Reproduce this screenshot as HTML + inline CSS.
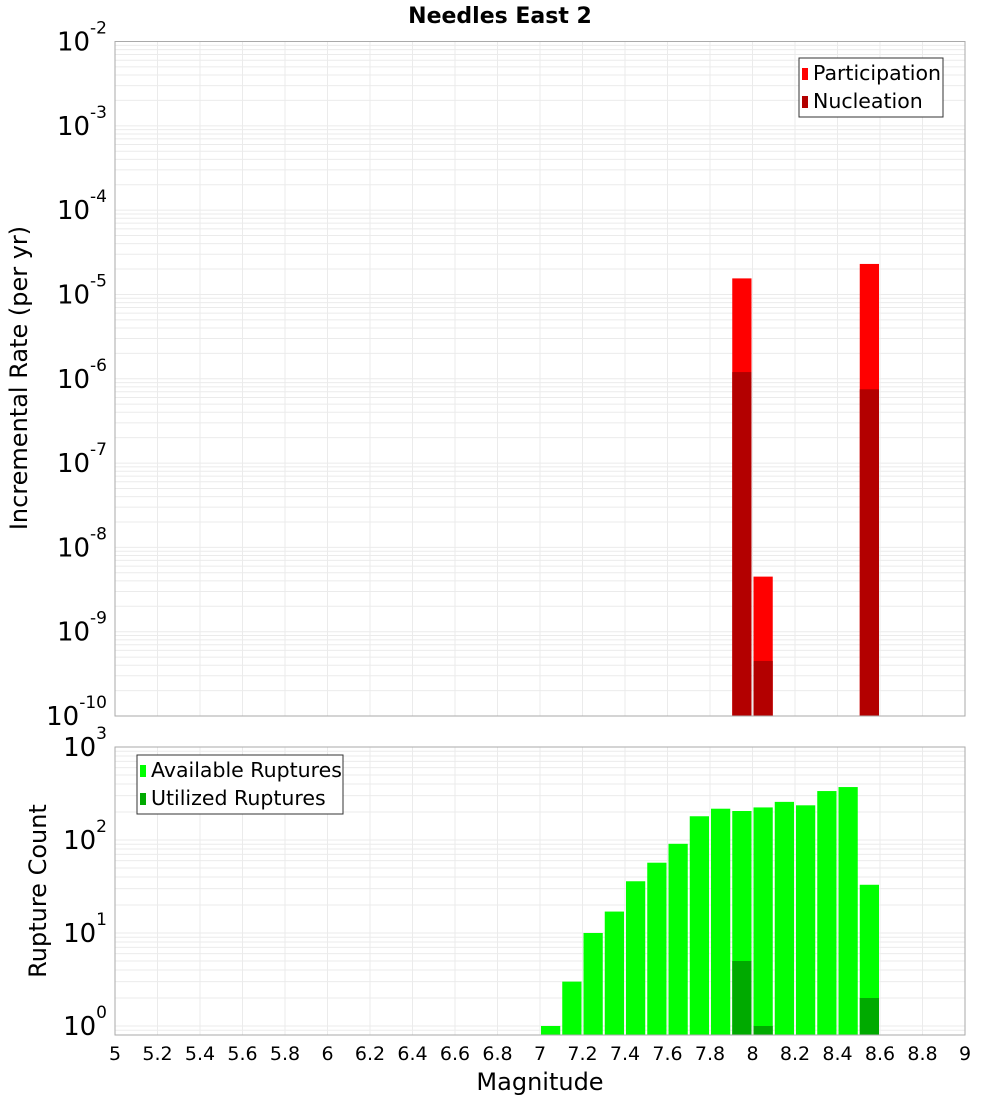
<!DOCTYPE html>
<html><head><meta charset="utf-8"><style>
body{margin:0;background:#fff}
svg{display:block;font-family:"DejaVu Sans","Liberation Sans",sans-serif}
</style></head><body>
<svg id="c" width="1000" height="1100" xmlns="http://www.w3.org/2000/svg">
<text x="500" y="23" text-anchor="middle" font-size="22" font-weight="bold">Needles East 2</text>
<text transform="translate(27,378) rotate(-90)" text-anchor="middle" font-size="24">Incremental Rate (per yr)</text>
<text transform="translate(46,891) rotate(-90)" text-anchor="middle" font-size="24">Rupture Count</text>
<text x="540" y="1090" text-anchor="middle" font-size="24">Magnitude</text>
<g id="top"></g><g id="bot"></g>
</svg>
<script>
const mags = [7.0,7.1,7.2,7.3,7.4,7.5,7.6,7.7,7.8,7.9,8.0,8.1,8.2,8.3,8.4,8.5];
const available = [1,3,10,17,36,57,91,180,217,205,224,257,236,336,371,33];
const utilizedMags = [7.9,8.0,8.5];
const utilized = [5,1,2];
const rateMags = [7.9,8.0,8.5];
const participation = [1.55e-5,4.5e-9,2.3e-5];
const nucleation = [1.2e-6,4.5e-10,7.5e-7];
const xTicks = [5,5.2,5.4,5.6,5.8,6,6.2,6.4,6.6,6.8,7,7.2,7.4,7.6,7.8,8,8.2,8.4,8.6,8.8,9];
const topExps = [-2,-3,-4,-5,-6,-7,-8,-9,-10];
const botExps = [3,2,1,0];

const NS="http://www.w3.org/2000/svg";
const X0=115,X1=965;
const xs=m=>X0+(m-5)/(9-5)*(X1-X0);
function mk(p,t,a){const e=document.createElementNS(NS,t);for(const k in a)e.setAttribute(k,a[k]);p.appendChild(e);return e;}

function panel(g,top,bot,lmin,lmax,nm){
  const ys=v=>bot-(Math.log10(v)-lmin)/(lmax-lmin)*(bot-top);
  for(let e=Math.floor(lmin);e<=lmax;e++){for(let k=1;k<10;k++){const v=k*Math.pow(10,e);const y=ys(v);if(y<top-0.1||y>bot+0.1)continue;
    const l=mk(g,'line',{x1:X0,x2:X1,y1:y,y2:y,stroke:'#ebebeb','stroke-width':1});
    
    }}
  xTicks.forEach(t=>{const l=mk(g,'line',{x1:xs(t),x2:xs(t),y1:top,y2:bot,stroke:'#ebebeb'});
    
    });
  return ys;
}
function frame(g,top,bot,nm){const r=mk(g,'rect',{x:X0,y:top,width:X1-X0,height:bot-top,fill:'none',stroke:'#aaa'});
  
  }
function bar(g,m,v,ys,bot,col,name){const x=xs(m)+1,w=xs(m+0.1)-xs(m)-2,y=ys(v);
  const r=mk(g,'rect',{x:x,y:y,width:w,height:bot-y,fill:col});
  
  }
function ylab(g,e,y,nm){const t=mk(g,'text',{x:107,y:y+9,'text-anchor':'end','font-size':26});
  
  
  t.appendChild(document.createTextNode('10'));
  const s=mk(t,'tspan',{dy:-17,'font-size':17});s.textContent=String(e);}

const gt=document.getElementById('top');
const T0=41.5,T1=716;
const yt=panel(gt,T0,T1,-10,-2,'top');
rateMags.forEach((m,i)=>bar(gt,m,participation[i],yt,T1,'#ff0000','participation-bar'));
rateMags.forEach((m,i)=>bar(gt,m,nucleation[i],yt,T1,'#b30000','nucleation-bar'));
frame(gt,T0,T1,'top');
topExps.forEach(e=>ylab(gt,e,yt(Math.pow(10,e)),'top'));

const gb=document.getElementById('bot');
const B0=747,B1=1035;
const yb=panel(gb,B0,B1,Math.log10(0.8),3,'bottom');
mags.forEach((m,i)=>bar(gb,m,available[i],yb,B1,'#00ff00','available-bar'));
utilizedMags.forEach((m,i)=>bar(gb,m,utilized[i],yb,B1,'#00aa00','utilized-bar'));
frame(gb,B0,B1,'bottom');
botExps.forEach(e=>ylab(gb,e,yb(Math.pow(10,e)),'bottom'));
xTicks.forEach(t=>{const tx=mk(gb,'text',{x:xs(t),y:1060,'text-anchor':'middle','font-size':19});
  
  
  tx.textContent=String(t);});

function legend(g,x,y,w,items,nm){const bx=mk(g,'rect',{x:x,y:y,width:w,height:59,fill:'#fff',stroke:'#333'});
  
  
  items.forEach((it,i)=>{const sw=mk(g,'rect',{x:x+3,y:y+10+i*28,width:6,height:12,fill:it[1]});
    
    
    const t=mk(g,'text',{x:x+14,y:y+22+i*28,'font-size':20.5});
    
    
    t.textContent=it[0];});}
legend(gt,799,58,144,[['Participation','#ff0000'],['Nucleation','#b30000']],'top-legend');
legend(gb,137,755,206,[['Available Ruptures','#00ff00'],['Utilized Ruptures','#00aa00']],'bottom-legend');
</script>
</body></html>
